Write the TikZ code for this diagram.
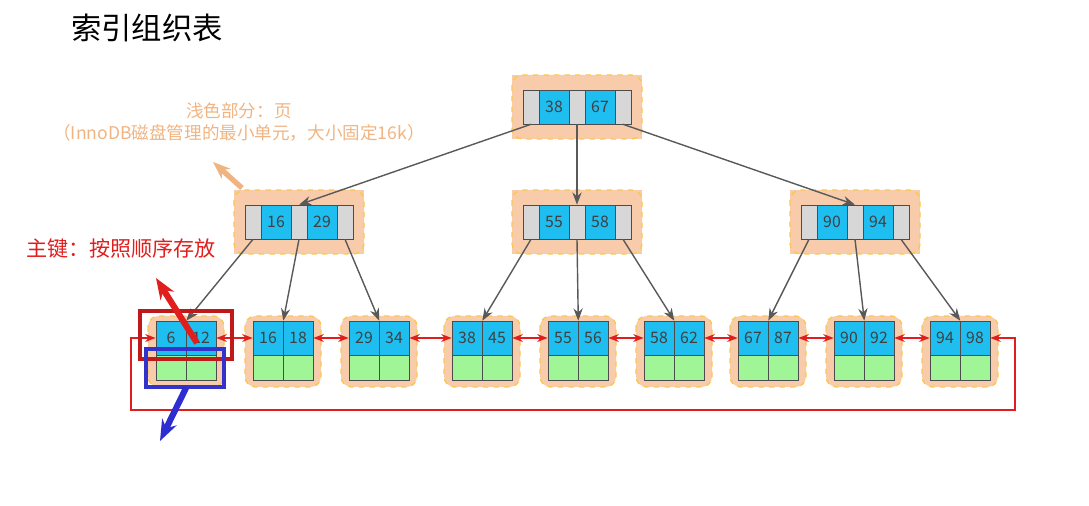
\documentclass[tikz,border=0pt]{standalone}
\usepackage{fontspec}
\setmainfont{Noto Sans CJK SC}
\usetikzlibrary{arrows.meta,positioning}
\definecolor{pagebg}{RGB}{248,204,170}
\definecolor{pageedge}{RGB}{250,200,80}
\definecolor{keyblue}{RGB}{30,190,240}
\definecolor{ptrgray}{RGB}{215,215,215}
\definecolor{rowgreen}{RGB}{160,245,150}
\definecolor{linkred}{RGB}{225,30,30}
\definecolor{notetext}{RGB}{240,180,130}
\tikzset{
  page/.style={draw=pageedge,dashed,fill=pagebg,rounded corners=6pt,thick},
  cell/.style={draw=black!70,inner sep=0pt,font=\small,text=black!75},
  keycell/.style={cell,fill=keyblue,minimum width=30\unit,minimum height=34\unit},
  ptrcell/.style={cell,fill=ptrgray,minimum width=16\unit,minimum height=34\unit},
  rowcell/.style={cell,fill=rowgreen,minimum width=30\unit,minimum height=25\unit},
  tree/.style={-{Stealth[length=7pt]},draw=black!65,thick},
  link/.style={{Stealth[length=6pt]}-{Stealth[length=6pt]},draw=linkred,thick}
}
\newcommand{\unit}{pt*0.5669}
\begin{document}
\begin{tikzpicture}[x=0.02cm,y=-0.02cm]
\useasboundingbox (0,0) rectangle (1089,506);
\node[anchor=west,font=\LARGE] (title) at (65,28) {索引组织表};

% inner nodes
\foreach \n/\cx/\cy/\a/\b in {root/577/107/38/67, ml/299/222/16/29, mm/577/222/55/58, mr/855/222/90/94}{
  \fill[pagebg] (\cx-65,\cy-32) rectangle (\cx+65,\cy+32);
  \draw[page] (\cx-65,\cy-32) rectangle (\cx+65,\cy+32);
  \node[ptrcell] (\n p1) at (\cx-46,\cy) {};
  \node[keycell] (\n k1) at (\cx-23,\cy) {\a};
  \node[ptrcell] (\n p2) at (\cx,\cy) {};
  \node[keycell] (\n k2) at (\cx+23,\cy) {\b};
  \node[ptrcell] (\n p3) at (\cx+46,\cy) {};
}

% leaf pages
\foreach \n/\cx/\a/\b in {1/186/6/12, 2/283/16/18, 3/379/29/34, 4/482/38/45, 5/578/55/56,
                          6/674/58/62, 7/768/67/87, 8/864/90/92, 9/960/94/98}{
  \draw[page] (\cx-38,316) rectangle (\cx+38,387);
  \node[keycell] (l\n a) at (\cx-15,338) {\a};
  \node[keycell] (l\n b) at (\cx+15,338) {\b};
  \node[rowcell] (l\n c) at (\cx-15,367.5) {};
  \node[rowcell] (l\n d) at (\cx+15,367.5) {};
}

% tree pointers
\draw[tree] (rootp1.south) -- (mlp2.north);
\draw[tree] (rootp2.south) -- (mmp2.north);
\draw[tree] (rootp3.south) -- (mrp2.north);
\foreach \m/\i/\j/\k in {ml/1/2/3, mm/4/5/6, mr/7/8/9}{
  \draw[tree] (\m p1.south) -- (l\i a.north east);
  \draw[tree] (\m p2.south) -- (l\j a.north east);
  \draw[tree] (\m p3.south) -- (l\k a.north east);
}

% leaf links
\foreach \i/\j in {1/2,2/3,3/4,4/5,5/6,6/7,7/8,8/9}
  \draw[link] (l\i b.east) -- (l\j a.west);
\coordinate (loopa) at (131,338);
\coordinate (loopb) at (131,410);
\coordinate (loopc) at (1015,410);
\coordinate (loopd) at (1015,338);
\draw[link] (l1a.west) -- (loopa) -- (loopb) -- (loopc) -- (loopd) -- (l9b.east);

% notes
\node[text=notetext,font=\normalsize,align=center] (pagenote) at (239,122)
  {浅色部分：页\\（InnoDB磁盘管理的最小单元，大小固定16k）};
\coordinate (pagetip) at (213,162);
\coordinate (pagetail) at (242,188);
\draw[-{Stealth[length=10pt]},draw=notetext,line width=3pt] (pagetail) -- (pagetip);

\node[text=linkred,font=\large,anchor=west] (keynote) at (20,248) {主键：按照顺序存放};
\draw[draw=linkred!85!black,line width=2.5pt] (140,311) rectangle (232,359);
\draw[draw=blue!60!gray,line width=2pt] (146,349) rectangle (224,387);
\coordinate (keytip) at (156,278);
\coordinate (keytail) at (197,343);
\draw[-{Stealth[length=12pt]},draw=linkred,line width=3.5pt] (keytail) -- (keytip);
\coordinate (rowtip) at (160,441);
\coordinate (rowtail) at (186,388);
\draw[-{Stealth[length=12pt]},draw=blue!65!gray,line width=3.5pt] (rowtail) -- (rowtip);
\end{tikzpicture}
\end{document}
